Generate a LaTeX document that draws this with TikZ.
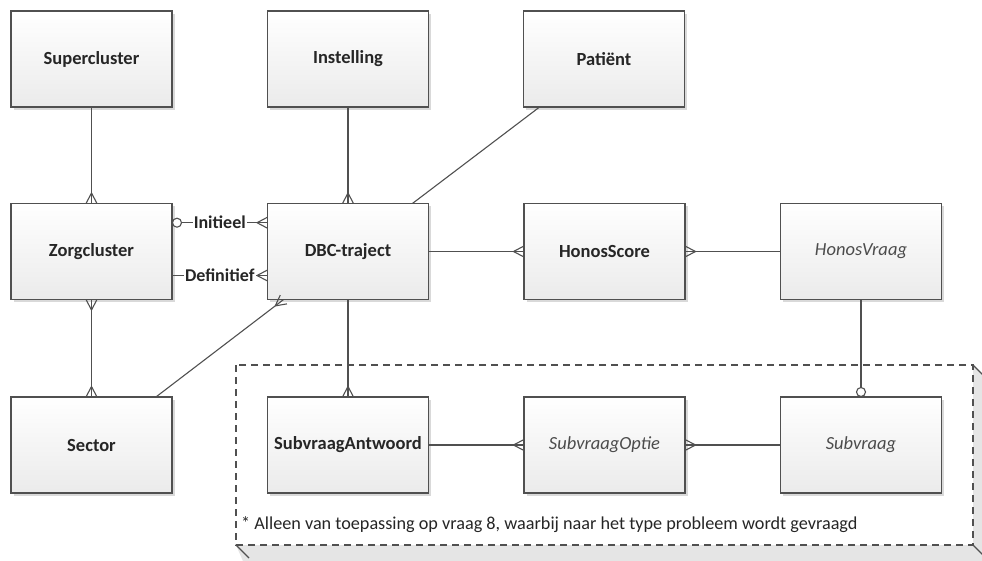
\documentclass[tikz,border=0pt]{standalone}
\usepackage{fontspec}
\setmainfont{Carlito}
\usetikzlibrary{calc,shadows,decorations.markings}
\definecolor{edge}{HTML}{505050}
\definecolor{txt}{HTML}{262626}
\tikzset{
 ent/.style={draw=edge, line width=1.3pt, minimum width=161pt, minimum height=96pt,
   inner sep=0pt, outer sep=0pt, top color=white, bottom color=black!8,
   drop shadow={shadow xshift=2.5pt, shadow yshift=-2.5pt, opacity=0.15, fill=black},
   font=\fontsize{18.5}{21}\selectfont\bfseries, text=txt},
 entit/.style={ent, font=\fontsize{18.5}{21}\selectfont\itshape, text=black!70},
 conn/.style={draw=edge, line width=1.1pt},
 crowend/.style={postaction={decorate,decoration={markings,mark=at position 1 with {\draw[edge,line width=1.1pt] (-10.5pt,0pt) -- (0pt,5.5pt) (-10.5pt,0pt) -- (0pt,-5.5pt);}}}},
 crowstart/.style={postaction={decorate,decoration={markings,mark=at position 0 with {\draw[edge,line width=1.1pt] (10.5pt,0pt) -- (0pt,5.5pt) (10.5pt,0pt) -- (0pt,-5.5pt);}}}},
 zerostart/.style={postaction={decorate,decoration={markings,mark=at position 0 with {\draw[edge,line width=1.1pt,fill=white] (5pt,0pt) circle[radius=4.5pt];}}}},
 zeroend/.style={postaction={decorate,decoration={markings,mark=at position 1 with {\draw[edge,line width=1.1pt,fill=white] (-5pt,0pt) circle[radius=4.5pt];}}}},
 lbl/.style={fill=white, inner sep=1pt, font=\fontsize{18}{20}\selectfont\bfseries, text=txt},
 framebox/.style={draw=edge, line width=1.3pt, dash pattern=on 7pt off 5pt, fill=white},
 note/.style={font=\fontsize{18.2}{21}\selectfont, text=txt, inner sep=0pt, anchor=base west}
}
\begin{document}
\begin{tikzpicture}[x=1pt,y=-1pt]
\useasboundingbox (0,0) rectangle (982,560);
% 3D dashed frame
\begin{scope}
\clip (0,0) rectangle (982,560);
\fill[black!10] (973,365) -- (986,378) -- (986,575) -- (249,575) -- (236,545) -- (973,545) -- cycle;
\draw[edge,line width=1.2pt] (973,365) -- (986,378) -- (986,575);
\draw[edge,line width=1.2pt] (236,545) -- (249,558);
\draw[edge,line width=1.2pt] (973,545) -- (986,558);
\end{scope}
\draw[framebox] (236,365) rectangle (973,545);
\node[note] (nt) at (241,529) {* Alleen van toepassing op vraag 8, waarbij naar het type probleem wordt gevraagd};
% entities
\node[ent] (sup) at (91.5,59) {Supercluster};
\node[ent] (inst) at (348,59) {Instelling};
\node[ent] (pat) at (604,59) {Patiënt};
\node[ent] (zorg) at (91.5,251.5) {Zorgcluster};
\node[ent] (dbc) at (348,251.5) {DBC-traject};
\node[ent] (hs) at (604.5,251.5) {HonosScore};
\node[entit] (hv) at (861,251.5) {HonosVraag};
\node[ent] (sec) at (91.5,445) {Sector};
\node[ent] (sa) at (348,445) {SubvraagAntwoord};
\node[entit] (so) at (604.5,445) {SubvraagOptie};
\node[entit] (sv) at (861,445) {Subvraag};
% connectors
\draw[conn,crowend] (sup.south) -- (zorg.north);
\draw[conn,crowend] (inst.south) -- (dbc.north);
\draw[conn] ($(pat.south west)!0.1!(pat.south east)$) -- ($(dbc.north west)!0.9!(dbc.north east)$);
\draw[conn,zerostart,crowend] ($(zorg.north east)!0.2!(zorg.south east)$) -- node[lbl] (li) {Initieel} ($(dbc.north west)!0.2!(dbc.south west)$);
\draw[conn,crowend] ($(zorg.north east)!0.75!(zorg.south east)$) -- node[lbl] (ld) {Definitief} ($(dbc.north west)!0.75!(dbc.south west)$);
\draw[conn,crowstart,crowend] (zorg.south) -- (sec.north);
\draw[conn,crowend] ($(sec.north west)!0.9!(sec.north east)$) -- ($(dbc.south west)!0.1!(dbc.south east)$);
\draw[conn,crowend] (dbc.east) -- (hs.west);
\draw[conn,crowend] (hv.west) -- (hs.east);
\draw[conn,zeroend] (hv.south) -- (sv.north);
\draw[conn,crowend] (dbc.south) -- (sa.north);
\draw[conn,crowend] (sa.east) -- (so.west);
\draw[conn,crowend] (sv.west) -- (so.east);
\end{tikzpicture}
\end{document}
